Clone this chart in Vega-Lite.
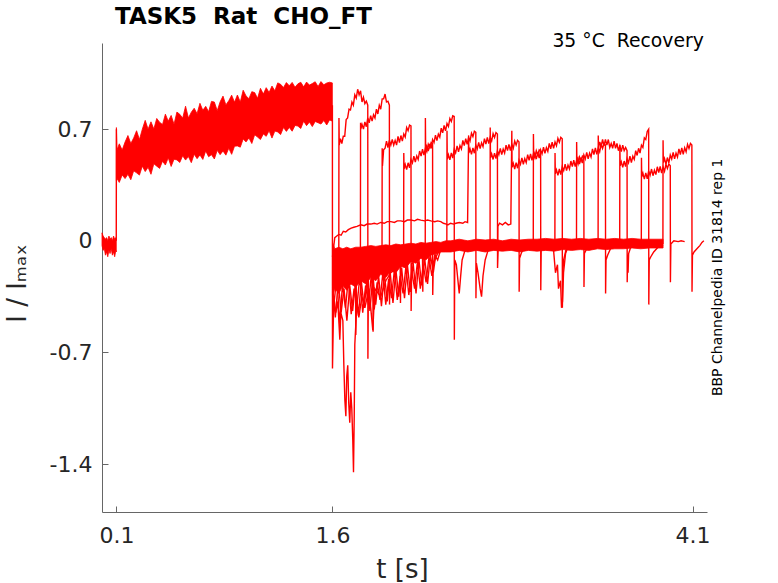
{
  "$schema": "https://vega.github.io/schema/vega-lite/v6.json",
  "width": 605,
  "height": 469,
  "autosize": {"type": "none"},
  "padding": {"left": 102, "top": 43, "right": 71, "bottom": 71},
  "background": "white",
  "title": {
    "text": "TASK5\u00a0 Rat\u00a0 CHO_FT",
    "anchor": "start",
    "frame": "group",
    "dx": 13,
    "offset": -15,
    "baseline": "alphabetic",
    "font": "DejaVu Sans",
    "fontSize": 23,
    "fontWeight": "bold",
    "color": "#000000"
  },
  "config": {
    "view": {"stroke": null},
    "axis": {
      "grid": false,
      "domainColor": "#666666",
      "tickColor": "#666666",
      "labelColor": "#262626",
      "titleColor": "#262626",
      "labelFont": "DejaVu Sans",
      "titleFont": "DejaVu Sans",
      "labelFontSize": 22,
      "titleFontSize": 26,
      "titleFontWeight": "normal",
      "tickSize": -6
    }
  },
  "datasets": {
    "band": [
      {"g": "b0", "t": 0.000, "lo": -0.03, "hi": 0.05},
      {"g": "b0", "t": 0.008, "lo": -0.06, "hi": 0.03},
      {"g": "b0", "t": 0.016, "lo": -0.05, "hi": 0.02},
      {"g": "b0", "t": 0.024, "lo": -0.09, "hi": 0.01},
      {"g": "b0", "t": 0.032, "lo": -0.07, "hi": 0.02},
      {"g": "b0", "t": 0.040, "lo": -0.10, "hi": 0.00},
      {"g": "b0", "t": 0.048, "lo": -0.06, "hi": 0.03},
      {"g": "b0", "t": 0.056, "lo": -0.08, "hi": 0.01},
      {"g": "b0", "t": 0.064, "lo": -0.05, "hi": 0.02},
      {"g": "b0", "t": 0.072, "lo": -0.09, "hi": 0.00},
      {"g": "b0", "t": 0.080, "lo": -0.07, "hi": 0.03},
      {"g": "b0", "t": 0.088, "lo": -0.10, "hi": 0.01},
      {"g": "b0", "t": 0.096, "lo": -0.06, "hi": 0.02},
      {"g": "b0", "t": 0.099, "lo": -0.07, "hi": 0.01},
      {"g": "b1", "t": 0.100, "lo": 0.38, "hi": 0.71},
      {"g": "b1", "t": 0.104, "lo": 0.39, "hi": 0.57},
      {"g": "b1", "t": 0.12, "lo": 0.366, "hi": 0.608},
      {"g": "b1", "t": 0.14, "lo": 0.413, "hi": 0.569},
      {"g": "b1", "t": 0.16, "lo": 0.390, "hi": 0.619},
      {"g": "b1", "t": 0.18, "lo": 0.417, "hi": 0.660},
      {"g": "b1", "t": 0.20, "lo": 0.383, "hi": 0.610},
      {"g": "b1", "t": 0.22, "lo": 0.439, "hi": 0.645},
      {"g": "b1", "t": 0.24, "lo": 0.426, "hi": 0.690},
      {"g": "b1", "t": 0.26, "lo": 0.412, "hi": 0.635},
      {"g": "b1", "t": 0.28, "lo": 0.468, "hi": 0.700},
      {"g": "b1", "t": 0.30, "lo": 0.434, "hi": 0.755},
      {"g": "b1", "t": 0.32, "lo": 0.461, "hi": 0.700},
      {"g": "b1", "t": 0.34, "lo": 0.417, "hi": 0.746},
      {"g": "b1", "t": 0.36, "lo": 0.483, "hi": 0.701},
      {"g": "b1", "t": 0.38, "lo": 0.468, "hi": 0.767},
      {"g": "b1", "t": 0.40, "lo": 0.454, "hi": 0.743},
      {"g": "b1", "t": 0.42, "lo": 0.499, "hi": 0.729},
      {"g": "b1", "t": 0.44, "lo": 0.475, "hi": 0.794},
      {"g": "b1", "t": 0.46, "lo": 0.520, "hi": 0.750},
      {"g": "b1", "t": 0.48, "lo": 0.466, "hi": 0.786},
      {"g": "b1", "t": 0.50, "lo": 0.511, "hi": 0.731},
      {"g": "b1", "t": 0.52, "lo": 0.507, "hi": 0.807},
      {"g": "b1", "t": 0.54, "lo": 0.491, "hi": 0.793},
      {"g": "b1", "t": 0.56, "lo": 0.533, "hi": 0.769},
      {"g": "b1", "t": 0.58, "lo": 0.506, "hi": 0.844},
      {"g": "b1", "t": 0.60, "lo": 0.528, "hi": 0.770},
      {"g": "b1", "t": 0.62, "lo": 0.490, "hi": 0.806},
      {"g": "b1", "t": 0.64, "lo": 0.543, "hi": 0.831},
      {"g": "b1", "t": 0.66, "lo": 0.515, "hi": 0.797},
      {"g": "b1", "t": 0.68, "lo": 0.538, "hi": 0.862},
      {"g": "b1", "t": 0.70, "lo": 0.510, "hi": 0.818},
      {"g": "b1", "t": 0.72, "lo": 0.563, "hi": 0.843},
      {"g": "b1", "t": 0.74, "lo": 0.527, "hi": 0.809},
      {"g": "b1", "t": 0.76, "lo": 0.540, "hi": 0.874},
      {"g": "b1", "t": 0.78, "lo": 0.513, "hi": 0.870},
      {"g": "b1", "t": 0.80, "lo": 0.567, "hi": 0.816},
      {"g": "b1", "t": 0.82, "lo": 0.540, "hi": 0.871},
      {"g": "b1", "t": 0.84, "lo": 0.563, "hi": 0.907},
      {"g": "b1", "t": 0.86, "lo": 0.537, "hi": 0.852},
      {"g": "b1", "t": 0.88, "lo": 0.580, "hi": 0.878},
      {"g": "b1", "t": 0.90, "lo": 0.542, "hi": 0.913},
      {"g": "b1", "t": 0.92, "lo": 0.593, "hi": 0.869},
      {"g": "b1", "t": 0.94, "lo": 0.595, "hi": 0.914},
      {"g": "b1", "t": 0.96, "lo": 0.587, "hi": 0.870},
      {"g": "b1", "t": 0.98, "lo": 0.638, "hi": 0.944},
      {"g": "b1", "t": 1.00, "lo": 0.620, "hi": 0.908},
      {"g": "b1", "t": 1.02, "lo": 0.645, "hi": 0.891},
      {"g": "b1", "t": 1.04, "lo": 0.610, "hi": 0.935},
      {"g": "b1", "t": 1.06, "lo": 0.665, "hi": 0.929},
      {"g": "b1", "t": 1.08, "lo": 0.650, "hi": 0.893},
      {"g": "b1", "t": 1.10, "lo": 0.635, "hi": 0.956},
      {"g": "b1", "t": 1.12, "lo": 0.670, "hi": 0.920},
      {"g": "b1", "t": 1.14, "lo": 0.655, "hi": 0.960},
      {"g": "b1", "t": 1.16, "lo": 0.690, "hi": 0.930},
      {"g": "b1", "t": 1.18, "lo": 0.644, "hi": 0.970},
      {"g": "b1", "t": 1.20, "lo": 0.688, "hi": 0.940},
      {"g": "b1", "t": 1.22, "lo": 0.682, "hi": 0.990},
      {"g": "b1", "t": 1.24, "lo": 0.666, "hi": 0.981},
      {"g": "b1", "t": 1.26, "lo": 0.710, "hi": 0.961},
      {"g": "b1", "t": 1.28, "lo": 0.686, "hi": 0.992},
      {"g": "b1", "t": 1.30, "lo": 0.711, "hi": 0.972},
      {"g": "b1", "t": 1.32, "lo": 0.687, "hi": 0.993},
      {"g": "b1", "t": 1.34, "lo": 0.723, "hi": 0.963},
      {"g": "b1", "t": 1.36, "lo": 0.719, "hi": 0.984},
      {"g": "b1", "t": 1.38, "lo": 0.704, "hi": 0.994},
      {"g": "b1", "t": 1.40, "lo": 0.750, "hi": 0.965},
      {"g": "b1", "t": 1.42, "lo": 0.722, "hi": 0.995},
      {"g": "b1", "t": 1.44, "lo": 0.744, "hi": 0.976},
      {"g": "b1", "t": 1.46, "lo": 0.716, "hi": 0.986},
      {"g": "b1", "t": 1.48, "lo": 0.748, "hi": 0.997},
      {"g": "b1", "t": 1.50, "lo": 0.740, "hi": 0.967},
      {"g": "b1", "t": 1.52, "lo": 0.732, "hi": 0.998},
      {"g": "b1", "t": 1.54, "lo": 0.754, "hi": 0.978},
      {"g": "b1", "t": 1.56, "lo": 0.726, "hi": 0.989},
      {"g": "b1", "t": 1.58, "lo": 0.758, "hi": 0.994},
      {"g": "b1", "t": 1.599, "lo": 0.750, "hi": 0.990},
      {"g": "b2", "t": 1.600, "lo": -0.35, "hi": -0.01},
      {"g": "b2", "t": 1.616, "lo": -0.30, "hi": -0.05},
      {"g": "b2", "t": 1.644, "lo": -0.33, "hi": -0.04},
      {"g": "b2", "t": 1.672, "lo": -0.28, "hi": -0.05},
      {"g": "b2", "t": 1.699, "lo": -0.31, "hi": -0.04},
      {"g": "b2", "t": 1.727, "lo": -0.27, "hi": -0.05},
      {"g": "b2", "t": 1.762, "lo": -0.29, "hi": -0.04},
      {"g": "b2", "t": 1.797, "lo": -0.25, "hi": -0.04},
      {"g": "b2", "t": 1.831, "lo": -0.27, "hi": -0.035},
      {"g": "b2", "t": 1.866, "lo": -0.23, "hi": -0.03},
      {"g": "b2", "t": 1.901, "lo": -0.25, "hi": -0.035},
      {"g": "b2", "t": 1.935, "lo": -0.21, "hi": -0.03},
      {"g": "b2", "t": 1.970, "lo": -0.23, "hi": -0.025},
      {"g": "b2", "t": 2.005, "lo": -0.19, "hi": -0.03},
      {"g": "b2", "t": 2.040, "lo": -0.20, "hi": -0.02},
      {"g": "b2", "t": 2.074, "lo": -0.16, "hi": -0.025},
      {"g": "b2", "t": 2.109, "lo": -0.17, "hi": -0.02},
      {"g": "b2", "t": 2.144, "lo": -0.13, "hi": -0.015},
      {"g": "b2", "t": 2.179, "lo": -0.14, "hi": -0.02},
      {"g": "b2", "t": 2.213, "lo": -0.11, "hi": -0.01},
      {"g": "b2", "t": 2.248, "lo": -0.12, "hi": -0.015},
      {"g": "b2", "t": 2.283, "lo": -0.09, "hi": -0.01},
      {"g": "b2", "t": 2.318, "lo": -0.08, "hi": -0.005},
      {"g": "b2", "t": 2.352, "lo": -0.07, "hi": -0.01},
      {"g": "b2", "t": 2.387, "lo": -0.07, "hi": 0.0},
      {"g": "b2", "t": 2.422, "lo": -0.07, "hi": 0.0},
      {"g": "b2", "t": 2.480, "lo": -0.06, "hi": 0.01},
      {"g": "b2", "t": 2.540, "lo": -0.07, "hi": 0.0},
      {"g": "b2", "t": 2.600, "lo": -0.06, "hi": 0.01},
      {"g": "b2", "t": 2.660, "lo": -0.07, "hi": 0.005},
      {"g": "b2", "t": 2.720, "lo": -0.06, "hi": 0.01},
      {"g": "b2", "t": 2.780, "lo": -0.065, "hi": 0.0},
      {"g": "b2", "t": 2.840, "lo": -0.06, "hi": 0.01},
      {"g": "b2", "t": 2.900, "lo": -0.07, "hi": 0.005},
      {"g": "b2", "t": 2.960, "lo": -0.06, "hi": 0.01},
      {"g": "b2", "t": 3.020, "lo": -0.065, "hi": 0.01},
      {"g": "b2", "t": 3.080, "lo": -0.06, "hi": 0.015},
      {"g": "b2", "t": 3.140, "lo": -0.065, "hi": 0.01},
      {"g": "b2", "t": 3.200, "lo": -0.055, "hi": 0.015},
      {"g": "b2", "t": 3.260, "lo": -0.06, "hi": 0.01},
      {"g": "b2", "t": 3.320, "lo": -0.055, "hi": 0.015},
      {"g": "b2", "t": 3.380, "lo": -0.06, "hi": 0.01},
      {"g": "b2", "t": 3.440, "lo": -0.05, "hi": 0.015},
      {"g": "b2", "t": 3.500, "lo": -0.055, "hi": 0.01},
      {"g": "b2", "t": 3.560, "lo": -0.05, "hi": 0.015},
      {"g": "b2", "t": 3.620, "lo": -0.05, "hi": 0.01},
      {"g": "b2", "t": 3.680, "lo": -0.045, "hi": 0.015},
      {"g": "b2", "t": 3.740, "lo": -0.05, "hi": 0.01},
      {"g": "b2", "t": 3.800, "lo": -0.045, "hi": 0.01},
      {"g": "b2", "t": 3.895, "lo": -0.045, "hi": 0.01}
    ],
    "tr": [
      {"s": "v0", "t": 0.099, "y": 0.0},
      {"s": "v0", "t": 0.100, "y": 0.70},
      {"s": "v0", "t": 0.101, "y": 0.45},

      {"s": "d", "t": 1.5995, "y": 0.85},
      {"s": "d", "t": 1.600, "y": -0.80},
      {"s": "d", "t": 1.609, "y": -0.35},
      {"s": "d", "t": 1.623, "y": -0.45},
      {"s": "d", "t": 1.637, "y": -0.38},
      {"s": "d", "t": 1.651, "y": -0.62},
      {"s": "d", "t": 1.658, "y": -0.45},
      {"s": "d", "t": 1.672, "y": -0.50},
      {"s": "d", "t": 1.679, "y": -0.78},
      {"s": "d", "t": 1.686, "y": -1.00},
      {"s": "d", "t": 1.693, "y": -1.10},
      {"s": "d", "t": 1.699, "y": -0.85},
      {"s": "d", "t": 1.706, "y": -0.78},
      {"s": "d", "t": 1.713, "y": -1.02},
      {"s": "d", "t": 1.720, "y": -1.14},
      {"s": "d", "t": 1.727, "y": -0.95},
      {"s": "d", "t": 1.734, "y": -1.05},
      {"s": "d", "t": 1.741, "y": -1.25},
      {"s": "d", "t": 1.746, "y": -1.45},
      {"s": "d", "t": 1.751, "y": -1.10},
      {"s": "d", "t": 1.755, "y": -0.65},
      {"s": "d", "t": 1.769, "y": -0.40},
      {"s": "d", "t": 1.783, "y": -0.48},
      {"s": "d", "t": 1.804, "y": -0.35},
      {"s": "d", "t": 1.825, "y": -0.42},
      {"s": "d", "t": 1.853, "y": -0.30},
      {"s": "d", "t": 1.880, "y": -0.56},
      {"s": "d", "t": 1.894, "y": -0.30},
      {"s": "d", "t": 1.935, "y": -0.35},
      {"s": "d", "t": 1.970, "y": -0.25},
      {"s": "d", "t": 2.005, "y": -0.20},
      {"s": "d", "t": 2.074, "y": -0.15},
      {"s": "d", "t": 2.144, "y": -0.10},

      {"s": "nA", "t": 1.602, "y": -0.30},
      {"s": "nA", "t": 1.62, "y": -0.48},
      {"s": "nA", "t": 1.64, "y": -0.25},
      {"s": "nA", "t": 1.66, "y": -0.45},
      {"s": "nA", "t": 1.68, "y": -0.30},
      {"s": "nA", "t": 1.70, "y": -0.50},
      {"s": "nA", "t": 1.72, "y": -0.28},
      {"s": "nA", "t": 1.74, "y": -0.44},
      {"s": "nA", "t": 1.76, "y": -0.26},
      {"s": "nA", "t": 1.78, "y": -0.47},
      {"s": "nA", "t": 1.80, "y": -0.25},
      {"s": "nA", "t": 1.82, "y": -0.42},
      {"s": "nA", "t": 1.84, "y": -0.24},
      {"s": "nA", "t": 1.86, "y": -0.44},
      {"s": "nA", "t": 1.88, "y": -0.22},
      {"s": "nA", "t": 1.90, "y": -0.40},
      {"s": "nA", "t": 1.92, "y": -0.22},
      {"s": "nA", "t": 1.94, "y": -0.41},
      {"s": "nA", "t": 1.96, "y": -0.20},
      {"s": "nA", "t": 1.98, "y": -0.38},
      {"s": "nA", "t": 2.00, "y": -0.19},
      {"s": "nA", "t": 2.02, "y": -0.39},
      {"s": "nA", "t": 2.04, "y": -0.18},
      {"s": "nA", "t": 2.06, "y": -0.35},
      {"s": "nA", "t": 2.08, "y": -0.17},
      {"s": "nA", "t": 2.10, "y": -0.36},
      {"s": "nA", "t": 2.12, "y": -0.15},
      {"s": "nA", "t": 2.14, "y": -0.32},
      {"s": "nA", "t": 2.16, "y": -0.14},
      {"s": "nA", "t": 2.18, "y": -0.33},
      {"s": "nA", "t": 2.20, "y": -0.12},
      {"s": "nA", "t": 2.22, "y": -0.28},
      {"s": "nA", "t": 2.24, "y": -0.11},
      {"s": "nA", "t": 2.26, "y": -0.27},
      {"s": "nA", "t": 2.28, "y": -0.09},
      {"s": "nA", "t": 2.30, "y": -0.20},
      {"s": "nA", "t": 2.32, "y": -0.07},

      {"s": "nB", "t": 1.61, "y": -0.40},
      {"s": "nB", "t": 1.63, "y": -0.22},
      {"s": "nB", "t": 1.65, "y": -0.52},
      {"s": "nB", "t": 1.67, "y": -0.27},
      {"s": "nB", "t": 1.69, "y": -0.42},
      {"s": "nB", "t": 1.71, "y": -0.24},
      {"s": "nB", "t": 1.73, "y": -0.46},
      {"s": "nB", "t": 1.75, "y": -0.30},
      {"s": "nB", "t": 1.77, "y": -0.41},
      {"s": "nB", "t": 1.79, "y": -0.22},
      {"s": "nB", "t": 1.81, "y": -0.45},
      {"s": "nB", "t": 1.83, "y": -0.28},
      {"s": "nB", "t": 1.85, "y": -0.40},
      {"s": "nB", "t": 1.87, "y": -0.21},
      {"s": "nB", "t": 1.89, "y": -0.43},
      {"s": "nB", "t": 1.91, "y": -0.26},
      {"s": "nB", "t": 1.93, "y": -0.37},
      {"s": "nB", "t": 1.95, "y": -0.20},
      {"s": "nB", "t": 1.97, "y": -0.40},
      {"s": "nB", "t": 1.99, "y": -0.24},
      {"s": "nB", "t": 2.01, "y": -0.36},
      {"s": "nB", "t": 2.03, "y": -0.18},
      {"s": "nB", "t": 2.05, "y": -0.37},
      {"s": "nB", "t": 2.07, "y": -0.22},
      {"s": "nB", "t": 2.09, "y": -0.33},
      {"s": "nB", "t": 2.11, "y": -0.16},
      {"s": "nB", "t": 2.13, "y": -0.34},
      {"s": "nB", "t": 2.15, "y": -0.19},
      {"s": "nB", "t": 2.17, "y": -0.30},
      {"s": "nB", "t": 2.19, "y": -0.13},
      {"s": "nB", "t": 2.21, "y": -0.30},
      {"s": "nB", "t": 2.23, "y": -0.15},
      {"s": "nB", "t": 2.25, "y": -0.26},
      {"s": "nB", "t": 2.27, "y": -0.10},
      {"s": "nB", "t": 2.29, "y": -0.22},
      {"s": "nB", "t": 2.31, "y": -0.09},
      {"s": "nB", "t": 2.33, "y": -0.12},
      {"s": "nB", "t": 2.35, "y": -0.06},

      {"s": "n2", "t": 1.620, "y": -0.20},
      {"s": "n2", "t": 1.760, "y": -0.25},
      {"s": "n2", "t": 1.762, "y": -0.59},
      {"s": "n2", "t": 1.765, "y": -0.25},
      {"s": "n2", "t": 1.880, "y": -0.20},
      {"s": "n2", "t": 1.882, "y": -0.57},
      {"s": "n2", "t": 1.885, "y": -0.20},
      {"s": "n2", "t": 2.070, "y": -0.15},
      {"s": "n2", "t": 2.072, "y": -0.39},
      {"s": "n2", "t": 2.075, "y": -0.15},
      {"s": "n2", "t": 2.225, "y": -0.10},
      {"s": "n2", "t": 2.227, "y": -0.32},
      {"s": "n2", "t": 2.230, "y": -0.10},
      {"s": "n2", "t": 2.300, "y": -0.05},

      {"s": "n1", "t": 3.130, "y": -0.03},
      {"s": "n1", "t": 3.134, "y": -0.05},
      {"s": "n1", "t": 3.148, "y": -0.20},
      {"s": "n1", "t": 3.162, "y": -0.15},
      {"s": "n1", "t": 3.169, "y": -0.30},
      {"s": "n1", "t": 3.183, "y": -0.25},
      {"s": "n1", "t": 3.190, "y": -0.42},
      {"s": "n1", "t": 3.197, "y": -0.38},
      {"s": "n1", "t": 3.204, "y": -0.20},
      {"s": "n1", "t": 3.218, "y": -0.08},
      {"s": "n1", "t": 3.239, "y": -0.03},

      {"s": "s0", "t": 1.644, "y": -0.05},
      {"s": "s0", "t": 1.645, "y": 0.77},
      {"s": "s0", "t": 1.647, "y": 0.60},
      {"s": "s0", "t": 1.655, "y": 0.64},
      {"s": "s0", "t": 1.665, "y": 0.61},
      {"s": "s0", "t": 1.675, "y": 0.655},
      {"s": "s0", "t": 1.685, "y": 0.655},
      {"s": "s0", "t": 1.695, "y": 0.76},
      {"s": "s0", "t": 1.705, "y": 0.77},
      {"s": "s0", "t": 1.715, "y": 0.825},
      {"s": "s0", "t": 1.725, "y": 0.82},
      {"s": "s0", "t": 1.735, "y": 0.87},
      {"s": "s0", "t": 1.745, "y": 0.85},
      {"s": "s0", "t": 1.755, "y": 0.915},
      {"s": "s0", "t": 1.765, "y": 0.895},
      {"s": "s0", "t": 1.775, "y": 0.95},
      {"s": "s0", "t": 1.785, "y": 0.915},
      {"s": "s0", "t": 1.795, "y": 0.94},
      {"s": "s0", "t": 1.805, "y": 0.87},
      {"s": "s0", "t": 1.815, "y": 0.90},
      {"s": "s0", "t": 1.825, "y": 0.86},
      {"s": "s0", "t": 1.835, "y": 0.875},
      {"s": "s0", "t": 1.845, "y": 0.85},
      {"s": "s0", "t": 1.846, "y": -0.74},
      {"s": "s0", "t": 1.850, "y": -0.20},
      {"s": "s0", "t": 1.870, "y": -0.15},
      {"s": "s0", "t": 1.900, "y": -0.10},

      {"s": "s1", "t": 1.794, "y": -0.05},
      {"s": "s1", "t": 1.795, "y": 0.74},
      {"s": "s1", "t": 1.797, "y": 0.70},
      {"s": "s1", "t": 1.805, "y": 0.73},
      {"s": "s1", "t": 1.815, "y": 0.70},
      {"s": "s1", "t": 1.825, "y": 0.745},
      {"s": "s1", "t": 1.835, "y": 0.715},
      {"s": "s1", "t": 1.845, "y": 0.77},
      {"s": "s1", "t": 1.855, "y": 0.74},
      {"s": "s1", "t": 1.865, "y": 0.785},
      {"s": "s1", "t": 1.875, "y": 0.75},
      {"s": "s1", "t": 1.885, "y": 0.79},
      {"s": "s1", "t": 1.895, "y": 0.77},
      {"s": "s1", "t": 1.905, "y": 0.825},
      {"s": "s1", "t": 1.915, "y": 0.795},
      {"s": "s1", "t": 1.925, "y": 0.85},
      {"s": "s1", "t": 1.935, "y": 0.825},
      {"s": "s1", "t": 1.945, "y": 0.89},
      {"s": "s1", "t": 1.955, "y": 0.89},
      {"s": "s1", "t": 1.965, "y": 0.92},
      {"s": "s1", "t": 1.975, "y": 0.87},
      {"s": "s1", "t": 1.985, "y": 0.875},
      {"s": "s1", "t": 1.995, "y": 0.85},
      {"s": "s1", "t": 1.996, "y": -0.40},
      {"s": "s1", "t": 2.000, "y": -0.15},
      {"s": "s1", "t": 2.030, "y": -0.10},
      {"s": "s1", "t": 2.090, "y": -0.05},

      {"s": "s2", "t": 1.944, "y": -0.05},
      {"s": "s2", "t": 1.945, "y": 0.58},
      {"s": "s2", "t": 1.947, "y": 0.47},
      {"s": "s2", "t": 1.955, "y": 0.57},
      {"s": "s2", "t": 1.965, "y": 0.58},
      {"s": "s2", "t": 1.975, "y": 0.625},
      {"s": "s2", "t": 1.985, "y": 0.585},
      {"s": "s2", "t": 1.995, "y": 0.63},
      {"s": "s2", "t": 2.005, "y": 0.60},
      {"s": "s2", "t": 2.015, "y": 0.635},
      {"s": "s2", "t": 2.025, "y": 0.60},
      {"s": "s2", "t": 2.035, "y": 0.63},
      {"s": "s2", "t": 2.045, "y": 0.60},
      {"s": "s2", "t": 2.055, "y": 0.655},
      {"s": "s2", "t": 2.065, "y": 0.615},
      {"s": "s2", "t": 2.075, "y": 0.66},
      {"s": "s2", "t": 2.085, "y": 0.625},
      {"s": "s2", "t": 2.095, "y": 0.67},
      {"s": "s2", "t": 2.105, "y": 0.65},
      {"s": "s2", "t": 2.115, "y": 0.71},
      {"s": "s2", "t": 2.125, "y": 0.69},
      {"s": "s2", "t": 2.135, "y": 0.725},
      {"s": "s2", "t": 2.145, "y": 0.72},
      {"s": "s2", "t": 2.146, "y": -0.44},
      {"s": "s2", "t": 2.150, "y": -0.15},
      {"s": "s2", "t": 2.180, "y": -0.10},
      {"s": "s2", "t": 2.240, "y": -0.04},

      {"s": "s3", "t": 2.094, "y": -0.04},
      {"s": "s3", "t": 2.095, "y": 0.55},
      {"s": "s3", "t": 2.097, "y": 0.45},
      {"s": "s3", "t": 2.105, "y": 0.478},
      {"s": "s3", "t": 2.115, "y": 0.446},
      {"s": "s3", "t": 2.125, "y": 0.489},
      {"s": "s3", "t": 2.135, "y": 0.457},
      {"s": "s3", "t": 2.145, "y": 0.51},
      {"s": "s3", "t": 2.155, "y": 0.488},
      {"s": "s3", "t": 2.165, "y": 0.531},
      {"s": "s3", "t": 2.175, "y": 0.494},
      {"s": "s3", "t": 2.185, "y": 0.532},
      {"s": "s3", "t": 2.195, "y": 0.51},
      {"s": "s3", "t": 2.205, "y": 0.563},
      {"s": "s3", "t": 2.215, "y": 0.531},
      {"s": "s3", "t": 2.225, "y": 0.574},
      {"s": "s3", "t": 2.235, "y": 0.537},
      {"s": "s3", "t": 2.245, "y": 0.58},
      {"s": "s3", "t": 2.255, "y": 0.558},
      {"s": "s3", "t": 2.265, "y": 0.606},
      {"s": "s3", "t": 2.275, "y": 0.584},
      {"s": "s3", "t": 2.285, "y": 0.617},
      {"s": "s3", "t": 2.295, "y": 0.61},
      {"s": "s3", "t": 2.296, "y": -0.34},
      {"s": "s3", "t": 2.300, "y": -0.14},
      {"s": "s3", "t": 2.330, "y": -0.08},
      {"s": "s3", "t": 2.390, "y": -0.03},

      {"s": "s4", "t": 2.244, "y": -0.03},
      {"s": "s4", "t": 2.245, "y": 0.77},
      {"s": "s4", "t": 2.247, "y": 0.56},
      {"s": "s4", "t": 2.255, "y": 0.591},
      {"s": "s4", "t": 2.265, "y": 0.562},
      {"s": "s4", "t": 2.275, "y": 0.608},
      {"s": "s4", "t": 2.285, "y": 0.579},
      {"s": "s4", "t": 2.295, "y": 0.635},
      {"s": "s4", "t": 2.305, "y": 0.616},
      {"s": "s4", "t": 2.315, "y": 0.662},
      {"s": "s4", "t": 2.325, "y": 0.628},
      {"s": "s4", "t": 2.335, "y": 0.669},
      {"s": "s4", "t": 2.345, "y": 0.65},
      {"s": "s4", "t": 2.355, "y": 0.706},
      {"s": "s4", "t": 2.365, "y": 0.677},
      {"s": "s4", "t": 2.375, "y": 0.723},
      {"s": "s4", "t": 2.385, "y": 0.689},
      {"s": "s4", "t": 2.395, "y": 0.735},
      {"s": "s4", "t": 2.405, "y": 0.716},
      {"s": "s4", "t": 2.415, "y": 0.767},
      {"s": "s4", "t": 2.425, "y": 0.748},
      {"s": "s4", "t": 2.435, "y": 0.784},
      {"s": "s4", "t": 2.445, "y": 0.78},
      {"s": "s4", "t": 2.446, "y": -0.62},
      {"s": "s4", "t": 2.449, "y": -0.12},
      {"s": "s4", "t": 2.460, "y": -0.15},
      {"s": "s4", "t": 2.470, "y": -0.24},
      {"s": "s4", "t": 2.480, "y": -0.33},
      {"s": "s4", "t": 2.490, "y": -0.22},
      {"s": "s4", "t": 2.500, "y": -0.12},
      {"s": "s4", "t": 2.520, "y": -0.06},
      {"s": "s4", "t": 2.545, "y": -0.03},

      {"s": "s5", "t": 2.394, "y": -0.02},
      {"s": "s5", "t": 2.395, "y": 0.69},
      {"s": "s5", "t": 2.397, "y": 0.51},
      {"s": "s5", "t": 2.405, "y": 0.539},
      {"s": "s5", "t": 2.415, "y": 0.507},
      {"s": "s5", "t": 2.425, "y": 0.551},
      {"s": "s5", "t": 2.435, "y": 0.519},
      {"s": "s5", "t": 2.445, "y": 0.573},
      {"s": "s5", "t": 2.455, "y": 0.551},
      {"s": "s5", "t": 2.465, "y": 0.595},
      {"s": "s5", "t": 2.475, "y": 0.558},
      {"s": "s5", "t": 2.485, "y": 0.597},
      {"s": "s5", "t": 2.495, "y": 0.575},
      {"s": "s5", "t": 2.505, "y": 0.629},
      {"s": "s5", "t": 2.515, "y": 0.597},
      {"s": "s5", "t": 2.525, "y": 0.641},
      {"s": "s5", "t": 2.535, "y": 0.604},
      {"s": "s5", "t": 2.545, "y": 0.648},
      {"s": "s5", "t": 2.555, "y": 0.626},
      {"s": "s5", "t": 2.565, "y": 0.675},
      {"s": "s5", "t": 2.575, "y": 0.653},
      {"s": "s5", "t": 2.585, "y": 0.687},
      {"s": "s5", "t": 2.595, "y": 0.68},
      {"s": "s5", "t": 2.596, "y": -0.36},
      {"s": "s5", "t": 2.599, "y": -0.14},
      {"s": "s5", "t": 2.610, "y": -0.20},
      {"s": "s5", "t": 2.625, "y": -0.30},
      {"s": "s5", "t": 2.635, "y": -0.35},
      {"s": "s5", "t": 2.645, "y": -0.22},
      {"s": "s5", "t": 2.660, "y": -0.12},
      {"s": "s5", "t": 2.680, "y": -0.06},
      {"s": "s5", "t": 2.695, "y": -0.03},

      {"s": "s6", "t": 1.600, "y": -0.10},
      {"s": "s6", "t": 1.616, "y": 0.02},
      {"s": "s6", "t": 1.630, "y": 0.03},
      {"s": "s6", "t": 1.644, "y": 0.04},
      {"s": "s6", "t": 1.660, "y": 0.035},
      {"s": "s6", "t": 1.675, "y": 0.06},
      {"s": "s6", "t": 1.692, "y": 0.055},
      {"s": "s6", "t": 1.710, "y": 0.07},
      {"s": "s6", "t": 1.730, "y": 0.08},
      {"s": "s6", "t": 1.748, "y": 0.085},
      {"s": "s6", "t": 1.770, "y": 0.09},
      {"s": "s6", "t": 1.797, "y": 0.10},
      {"s": "s6", "t": 1.820, "y": 0.095},
      {"s": "s6", "t": 1.840, "y": 0.105},
      {"s": "s6", "t": 1.866, "y": 0.105},
      {"s": "s6", "t": 1.890, "y": 0.11},
      {"s": "s6", "t": 1.910, "y": 0.105},
      {"s": "s6", "t": 1.935, "y": 0.115},
      {"s": "s6", "t": 1.960, "y": 0.11},
      {"s": "s6", "t": 1.980, "y": 0.12},
      {"s": "s6", "t": 2.005, "y": 0.12},
      {"s": "s6", "t": 2.030, "y": 0.115},
      {"s": "s6", "t": 2.050, "y": 0.125},
      {"s": "s6", "t": 2.074, "y": 0.125},
      {"s": "s6", "t": 2.100, "y": 0.12},
      {"s": "s6", "t": 2.120, "y": 0.13},
      {"s": "s6", "t": 2.144, "y": 0.13},
      {"s": "s6", "t": 2.170, "y": 0.125},
      {"s": "s6", "t": 2.190, "y": 0.135},
      {"s": "s6", "t": 2.213, "y": 0.13},
      {"s": "s6", "t": 2.240, "y": 0.125},
      {"s": "s6", "t": 2.260, "y": 0.13},
      {"s": "s6", "t": 2.283, "y": 0.125},
      {"s": "s6", "t": 2.310, "y": 0.12},
      {"s": "s6", "t": 2.330, "y": 0.125},
      {"s": "s6", "t": 2.352, "y": 0.12},
      {"s": "s6", "t": 2.370, "y": 0.11},
      {"s": "s6", "t": 2.390, "y": 0.105},
      {"s": "s6", "t": 2.401, "y": 0.10},
      {"s": "s6", "t": 2.420, "y": 0.11},
      {"s": "s6", "t": 2.440, "y": 0.105},
      {"s": "s6", "t": 2.457, "y": 0.11},
      {"s": "s6", "t": 2.480, "y": 0.115},
      {"s": "s6", "t": 2.505, "y": 0.11},
      {"s": "s6", "t": 2.520, "y": 0.12},
      {"s": "s6", "t": 2.538, "y": 0.115},
      {"s": "s6", "t": 2.545, "y": 0.66},
      {"s": "s6", "t": 2.547, "y": 0.55},
      {"s": "s6", "t": 2.555, "y": 0.576},
      {"s": "s6", "t": 2.565, "y": 0.542},
      {"s": "s6", "t": 2.575, "y": 0.583},
      {"s": "s6", "t": 2.585, "y": 0.549},
      {"s": "s6", "t": 2.595, "y": 0.60},
      {"s": "s6", "t": 2.605, "y": 0.576},
      {"s": "s6", "t": 2.615, "y": 0.617},
      {"s": "s6", "t": 2.625, "y": 0.578},
      {"s": "s6", "t": 2.635, "y": 0.614},
      {"s": "s6", "t": 2.645, "y": 0.59},
      {"s": "s6", "t": 2.655, "y": 0.641},
      {"s": "s6", "t": 2.665, "y": 0.607},
      {"s": "s6", "t": 2.675, "y": 0.648},
      {"s": "s6", "t": 2.685, "y": 0.609},
      {"s": "s6", "t": 2.695, "y": 0.65},
      {"s": "s6", "t": 2.705, "y": 0.626},
      {"s": "s6", "t": 2.715, "y": 0.672},
      {"s": "s6", "t": 2.725, "y": 0.648},
      {"s": "s6", "t": 2.735, "y": 0.679},
      {"s": "s6", "t": 2.745, "y": 0.67},
      {"s": "s6", "t": 2.746, "y": -0.17},
      {"s": "s6", "t": 2.750, "y": -0.06},
      {"s": "s6", "t": 2.780, "y": -0.04},
      {"s": "s6", "t": 2.845, "y": -0.02},

      {"s": "s7", "t": 2.694, "y": -0.02},
      {"s": "s7", "t": 2.695, "y": 0.71},
      {"s": "s7", "t": 2.697, "y": 0.52},
      {"s": "s7", "t": 2.705, "y": 0.545},
      {"s": "s7", "t": 2.715, "y": 0.51},
      {"s": "s7", "t": 2.725, "y": 0.55},
      {"s": "s7", "t": 2.735, "y": 0.515},
      {"s": "s7", "t": 2.745, "y": 0.565},
      {"s": "s7", "t": 2.755, "y": 0.54},
      {"s": "s7", "t": 2.765, "y": 0.58},
      {"s": "s7", "t": 2.775, "y": 0.54},
      {"s": "s7", "t": 2.785, "y": 0.575},
      {"s": "s7", "t": 2.795, "y": 0.55},
      {"s": "s7", "t": 2.805, "y": 0.60},
      {"s": "s7", "t": 2.815, "y": 0.565},
      {"s": "s7", "t": 2.825, "y": 0.605},
      {"s": "s7", "t": 2.835, "y": 0.565},
      {"s": "s7", "t": 2.845, "y": 0.605},
      {"s": "s7", "t": 2.855, "y": 0.58},
      {"s": "s7", "t": 2.865, "y": 0.625},
      {"s": "s7", "t": 2.875, "y": 0.60},
      {"s": "s7", "t": 2.885, "y": 0.63},
      {"s": "s7", "t": 2.895, "y": 0.62},
      {"s": "s7", "t": 2.896, "y": -0.32},
      {"s": "s7", "t": 2.899, "y": -0.11},
      {"s": "s7", "t": 2.910, "y": -0.08},
      {"s": "s7", "t": 2.930, "y": -0.04},
      {"s": "s7", "t": 2.960, "y": -0.025},
      {"s": "s7", "t": 2.995, "y": -0.02},

      {"s": "s8", "t": 2.747, "y": -0.02},
      {"s": "s8", "t": 2.748, "y": 0.09},
      {"s": "s8", "t": 2.760, "y": 0.11},
      {"s": "s8", "t": 2.780, "y": 0.10},
      {"s": "s8", "t": 2.800, "y": 0.115},
      {"s": "s8", "t": 2.820, "y": 0.10},
      {"s": "s8", "t": 2.838, "y": 0.105},
      {"s": "s8", "t": 2.845, "y": 0.69},
      {"s": "s8", "t": 2.847, "y": 0.46},
      {"s": "s8", "t": 2.855, "y": 0.485},
      {"s": "s8", "t": 2.865, "y": 0.45},
      {"s": "s8", "t": 2.875, "y": 0.49},
      {"s": "s8", "t": 2.885, "y": 0.455},
      {"s": "s8", "t": 2.895, "y": 0.505},
      {"s": "s8", "t": 2.905, "y": 0.48},
      {"s": "s8", "t": 2.915, "y": 0.52},
      {"s": "s8", "t": 2.925, "y": 0.48},
      {"s": "s8", "t": 2.935, "y": 0.515},
      {"s": "s8", "t": 2.945, "y": 0.49},
      {"s": "s8", "t": 2.955, "y": 0.54},
      {"s": "s8", "t": 2.965, "y": 0.505},
      {"s": "s8", "t": 2.975, "y": 0.545},
      {"s": "s8", "t": 2.985, "y": 0.505},
      {"s": "s8", "t": 2.995, "y": 0.545},
      {"s": "s8", "t": 3.005, "y": 0.52},
      {"s": "s8", "t": 3.015, "y": 0.565},
      {"s": "s8", "t": 3.025, "y": 0.54},
      {"s": "s8", "t": 3.035, "y": 0.57},
      {"s": "s8", "t": 3.045, "y": 0.56},
      {"s": "s8", "t": 3.046, "y": -0.31},
      {"s": "s8", "t": 3.049, "y": -0.06},
      {"s": "s8", "t": 3.080, "y": -0.03},
      {"s": "s8", "t": 3.145, "y": -0.02},

      {"s": "s9", "t": 2.994, "y": -0.02},
      {"s": "s9", "t": 2.995, "y": 0.67},
      {"s": "s9", "t": 2.997, "y": 0.52},
      {"s": "s9", "t": 3.005, "y": 0.546},
      {"s": "s9", "t": 3.015, "y": 0.512},
      {"s": "s9", "t": 3.025, "y": 0.553},
      {"s": "s9", "t": 3.035, "y": 0.519},
      {"s": "s9", "t": 3.045, "y": 0.57},
      {"s": "s9", "t": 3.055, "y": 0.546},
      {"s": "s9", "t": 3.065, "y": 0.587},
      {"s": "s9", "t": 3.075, "y": 0.548},
      {"s": "s9", "t": 3.085, "y": 0.584},
      {"s": "s9", "t": 3.095, "y": 0.56},
      {"s": "s9", "t": 3.105, "y": 0.611},
      {"s": "s9", "t": 3.115, "y": 0.577},
      {"s": "s9", "t": 3.125, "y": 0.618},
      {"s": "s9", "t": 3.135, "y": 0.579},
      {"s": "s9", "t": 3.145, "y": 0.62},
      {"s": "s9", "t": 3.155, "y": 0.596},
      {"s": "s9", "t": 3.165, "y": 0.642},
      {"s": "s9", "t": 3.175, "y": 0.618},
      {"s": "s9", "t": 3.185, "y": 0.649},
      {"s": "s9", "t": 3.195, "y": 0.64},
      {"s": "s9", "t": 3.196, "y": -0.42},
      {"s": "s9", "t": 3.199, "y": -0.20},
      {"s": "s9", "t": 3.205, "y": -0.12},
      {"s": "s9", "t": 3.220, "y": -0.06},
      {"s": "s9", "t": 3.250, "y": -0.03},
      {"s": "s9", "t": 3.295, "y": -0.02},

      {"s": "s10", "t": 3.144, "y": -0.02},
      {"s": "s10", "t": 3.145, "y": 0.55},
      {"s": "s10", "t": 3.147, "y": 0.42},
      {"s": "s10", "t": 3.155, "y": 0.445},
      {"s": "s10", "t": 3.165, "y": 0.41},
      {"s": "s10", "t": 3.175, "y": 0.45},
      {"s": "s10", "t": 3.185, "y": 0.415},
      {"s": "s10", "t": 3.195, "y": 0.465},
      {"s": "s10", "t": 3.205, "y": 0.44},
      {"s": "s10", "t": 3.215, "y": 0.48},
      {"s": "s10", "t": 3.225, "y": 0.44},
      {"s": "s10", "t": 3.235, "y": 0.475},
      {"s": "s10", "t": 3.245, "y": 0.45},
      {"s": "s10", "t": 3.255, "y": 0.50},
      {"s": "s10", "t": 3.265, "y": 0.465},
      {"s": "s10", "t": 3.275, "y": 0.505},
      {"s": "s10", "t": 3.285, "y": 0.465},
      {"s": "s10", "t": 3.295, "y": 0.505},
      {"s": "s10", "t": 3.305, "y": 0.48},
      {"s": "s10", "t": 3.315, "y": 0.525},
      {"s": "s10", "t": 3.325, "y": 0.50},
      {"s": "s10", "t": 3.335, "y": 0.53},
      {"s": "s10", "t": 3.345, "y": 0.52},
      {"s": "s10", "t": 3.346, "y": -0.29},
      {"s": "s10", "t": 3.349, "y": -0.08},
      {"s": "s10", "t": 3.370, "y": -0.04},
      {"s": "s10", "t": 3.400, "y": -0.025},
      {"s": "s10", "t": 3.445, "y": -0.02},

      {"s": "s11", "t": 3.294, "y": -0.02},
      {"s": "s11", "t": 3.295, "y": 0.62},
      {"s": "s11", "t": 3.297, "y": 0.49},
      {"s": "s11", "t": 3.305, "y": 0.516},
      {"s": "s11", "t": 3.315, "y": 0.481},
      {"s": "s11", "t": 3.325, "y": 0.522},
      {"s": "s11", "t": 3.335, "y": 0.487},
      {"s": "s11", "t": 3.345, "y": 0.538},
      {"s": "s11", "t": 3.355, "y": 0.513},
      {"s": "s11", "t": 3.365, "y": 0.554},
      {"s": "s11", "t": 3.375, "y": 0.514},
      {"s": "s11", "t": 3.385, "y": 0.55},
      {"s": "s11", "t": 3.395, "y": 0.525},
      {"s": "s11", "t": 3.405, "y": 0.576},
      {"s": "s11", "t": 3.415, "y": 0.541},
      {"s": "s11", "t": 3.425, "y": 0.582},
      {"s": "s11", "t": 3.435, "y": 0.542},
      {"s": "s11", "t": 3.445, "y": 0.583},
      {"s": "s11", "t": 3.455, "y": 0.558},
      {"s": "s11", "t": 3.465, "y": 0.604},
      {"s": "s11", "t": 3.475, "y": 0.579},
      {"s": "s11", "t": 3.485, "y": 0.61},
      {"s": "s11", "t": 3.495, "y": 0.60},
      {"s": "s11", "t": 3.496, "y": -0.33},
      {"s": "s11", "t": 3.499, "y": -0.12},
      {"s": "s11", "t": 3.510, "y": -0.09},
      {"s": "s11", "t": 3.530, "y": -0.05},
      {"s": "s11", "t": 3.560, "y": -0.03},
      {"s": "s11", "t": 3.595, "y": -0.02},

      {"s": "s12", "t": 3.444, "y": -0.02},
      {"s": "s12", "t": 3.445, "y": 0.66},
      {"s": "s12", "t": 3.447, "y": 0.58},
      {"s": "s12", "t": 3.455, "y": 0.62},
      {"s": "s12", "t": 3.465, "y": 0.59},
      {"s": "s12", "t": 3.475, "y": 0.635},
      {"s": "s12", "t": 3.485, "y": 0.595},
      {"s": "s12", "t": 3.495, "y": 0.635},
      {"s": "s12", "t": 3.505, "y": 0.60},
      {"s": "s12", "t": 3.515, "y": 0.635},
      {"s": "s12", "t": 3.525, "y": 0.585},
      {"s": "s12", "t": 3.535, "y": 0.61},
      {"s": "s12", "t": 3.545, "y": 0.58},
      {"s": "s12", "t": 3.555, "y": 0.625},
      {"s": "s12", "t": 3.565, "y": 0.58},
      {"s": "s12", "t": 3.575, "y": 0.61},
      {"s": "s12", "t": 3.585, "y": 0.565},
      {"s": "s12", "t": 3.595, "y": 0.595},
      {"s": "s12", "t": 3.605, "y": 0.56},
      {"s": "s12", "t": 3.615, "y": 0.60},
      {"s": "s12", "t": 3.625, "y": 0.565},
      {"s": "s12", "t": 3.635, "y": 0.585},
      {"s": "s12", "t": 3.645, "y": 0.565},
      {"s": "s12", "t": 3.646, "y": -0.26},
      {"s": "s12", "t": 3.649, "y": -0.10},
      {"s": "s12", "t": 3.652, "y": -0.20},
      {"s": "s12", "t": 3.656, "y": -0.08},
      {"s": "s12", "t": 3.670, "y": -0.04},
      {"s": "s12", "t": 3.700, "y": -0.025},
      {"s": "s12", "t": 3.745, "y": -0.02},

      {"s": "s13", "t": 3.594, "y": -0.02},
      {"s": "s13", "t": 3.595, "y": 0.60},
      {"s": "s13", "t": 3.597, "y": 0.47},
      {"s": "s13", "t": 3.605, "y": 0.495},
      {"s": "s13", "t": 3.615, "y": 0.46},
      {"s": "s13", "t": 3.625, "y": 0.50},
      {"s": "s13", "t": 3.635, "y": 0.465},
      {"s": "s13", "t": 3.645, "y": 0.515},
      {"s": "s13", "t": 3.655, "y": 0.49},
      {"s": "s13", "t": 3.665, "y": 0.53},
      {"s": "s13", "t": 3.675, "y": 0.49},
      {"s": "s13", "t": 3.685, "y": 0.53},
      {"s": "s13", "t": 3.695, "y": 0.51},
      {"s": "s13", "t": 3.705, "y": 0.565},
      {"s": "s13", "t": 3.715, "y": 0.535},
      {"s": "s13", "t": 3.725, "y": 0.58},
      {"s": "s13", "t": 3.735, "y": 0.55},
      {"s": "s13", "t": 3.745, "y": 0.60},
      {"s": "s13", "t": 3.755, "y": 0.585},
      {"s": "s13", "t": 3.765, "y": 0.645},
      {"s": "s13", "t": 3.775, "y": 0.635},
      {"s": "s13", "t": 3.785, "y": 0.685},
      {"s": "s13", "t": 3.795, "y": 0.70},
      {"s": "s13", "t": 3.796, "y": -0.40},
      {"s": "s13", "t": 3.799, "y": -0.12},
      {"s": "s13", "t": 3.810, "y": -0.10},
      {"s": "s13", "t": 3.830, "y": -0.07},
      {"s": "s13", "t": 3.860, "y": -0.04},
      {"s": "s13", "t": 3.895, "y": -0.025},

      {"s": "s14", "t": 3.744, "y": -0.02},
      {"s": "s14", "t": 3.745, "y": 0.52},
      {"s": "s14", "t": 3.747, "y": 0.40},
      {"s": "s14", "t": 3.755, "y": 0.424},
      {"s": "s14", "t": 3.765, "y": 0.387},
      {"s": "s14", "t": 3.775, "y": 0.426},
      {"s": "s14", "t": 3.785, "y": 0.389},
      {"s": "s14", "t": 3.795, "y": 0.438},
      {"s": "s14", "t": 3.805, "y": 0.411},
      {"s": "s14", "t": 3.815, "y": 0.45},
      {"s": "s14", "t": 3.825, "y": 0.408},
      {"s": "s14", "t": 3.835, "y": 0.442},
      {"s": "s14", "t": 3.845, "y": 0.415},
      {"s": "s14", "t": 3.855, "y": 0.464},
      {"s": "s14", "t": 3.865, "y": 0.427},
      {"s": "s14", "t": 3.875, "y": 0.466},
      {"s": "s14", "t": 3.885, "y": 0.424},
      {"s": "s14", "t": 3.895, "y": 0.463},
      {"s": "s14", "t": 3.905, "y": 0.436},
      {"s": "s14", "t": 3.915, "y": 0.48},
      {"s": "s14", "t": 3.925, "y": 0.453},
      {"s": "s14", "t": 3.935, "y": 0.482},
      {"s": "s14", "t": 3.945, "y": 0.47},
      {"s": "s14", "t": 3.946, "y": -0.26},
      {"s": "s14", "t": 3.949, "y": -0.02},
      {"s": "s14", "t": 3.970, "y": 0.0},
      {"s": "s14", "t": 4.000, "y": -0.005},
      {"s": "s14", "t": 4.020, "y": 0.0},
      {"s": "s14", "t": 4.045, "y": -0.005},

      {"s": "s15", "t": 3.894, "y": -0.02},
      {"s": "s15", "t": 3.895, "y": 0.63},
      {"s": "s15", "t": 3.897, "y": 0.49},
      {"s": "s15", "t": 3.905, "y": 0.516},
      {"s": "s15", "t": 3.915, "y": 0.481},
      {"s": "s15", "t": 3.925, "y": 0.522},
      {"s": "s15", "t": 3.935, "y": 0.487},
      {"s": "s15", "t": 3.945, "y": 0.538},
      {"s": "s15", "t": 3.955, "y": 0.513},
      {"s": "s15", "t": 3.965, "y": 0.554},
      {"s": "s15", "t": 3.975, "y": 0.514},
      {"s": "s15", "t": 3.985, "y": 0.55},
      {"s": "s15", "t": 3.995, "y": 0.525},
      {"s": "s15", "t": 4.005, "y": 0.576},
      {"s": "s15", "t": 4.015, "y": 0.541},
      {"s": "s15", "t": 4.025, "y": 0.582},
      {"s": "s15", "t": 4.035, "y": 0.542},
      {"s": "s15", "t": 4.045, "y": 0.583},
      {"s": "s15", "t": 4.055, "y": 0.558},
      {"s": "s15", "t": 4.065, "y": 0.604},
      {"s": "s15", "t": 4.075, "y": 0.579},
      {"s": "s15", "t": 4.085, "y": 0.61},
      {"s": "s15", "t": 4.095, "y": 0.60},
      {"s": "s15", "t": 4.096, "y": -0.32},
      {"s": "s15", "t": 4.099, "y": -0.09},
      {"s": "s15", "t": 4.110, "y": -0.07},
      {"s": "s15", "t": 4.130, "y": -0.05},
      {"s": "s15", "t": 4.150, "y": -0.03},
      {"s": "s15", "t": 4.165, "y": -0.01},
      {"s": "s15", "t": 4.178, "y": 0.0}
    ]
  },
  "layer": [
    {
      "data": {"name": "band"},
      "mark": {"type": "area", "color": "#ff0000", "opacity": 1, "stroke": "#ff0000", "strokeWidth": 0.8},
      "encoding": {
        "x": {
          "field": "t",
          "type": "quantitative",
          "scale": {"domain": [0, 4.2], "nice": false, "zero": false},
          "axis": {
            "values": [0.1, 1.6, 4.1],
            "labelExpr": "'' + datum.value",
            "labelPadding": 19,
            "title": "t [s]",
            "titleX": 300,
            "titleY": 65,
            "titleBaseline": "alphabetic"
          }
        },
        "y": {
          "field": "lo",
          "type": "quantitative",
          "scale": {"domain": [-1.7, 1.24], "nice": false, "zero": false},
          "axis": {
            "values": [-1.4, -0.7, 0, 0.7],
            "labelExpr": "'' + datum.value",
            "labelPadding": 16,
            "title": "I / Iₘₐₓ",
            "titleX": -77,
            "titleY": 240,
            "titleAlign": "center",
            "titleBaseline": "alphabetic"
          }
        },
        "y2": {"field": "hi"},
        "detail": {"field": "g"}
      }
    },
    {
      "data": {"name": "tr"},
      "mark": {"type": "line", "color": "#ff0000", "strokeWidth": 1.4},
      "encoding": {
        "x": {"field": "t", "type": "quantitative"},
        "y": {"field": "y", "type": "quantitative"},
        "detail": {"field": "s"}
      }
    },
    {
      "data": {"values": [{}]},
      "mark": {"type": "text", "text": "35 °C\u00a0 Recovery", "align": "right", "baseline": "alphabetic", "font": "DejaVu Sans", "fontSize": 18.8, "color": "#000000"},
      "encoding": {
        "x": {"datum": 4.178, "type": "quantitative"},
        "y": {"datum": 1.216, "type": "quantitative"}
      }
    },
    {
      "data": {"values": [{}]},
      "mark": {"type": "text", "text": "BBP Channelpedia ID 31814 rep 1", "angle": 270, "align": "center", "baseline": "alphabetic", "font": "DejaVu Sans", "fontSize": 14, "color": "#000000"},
      "encoding": {
        "x": {"datum": 4.303, "type": "quantitative"},
        "y": {"datum": -0.229, "type": "quantitative"}
      }
    }
  ]
}
